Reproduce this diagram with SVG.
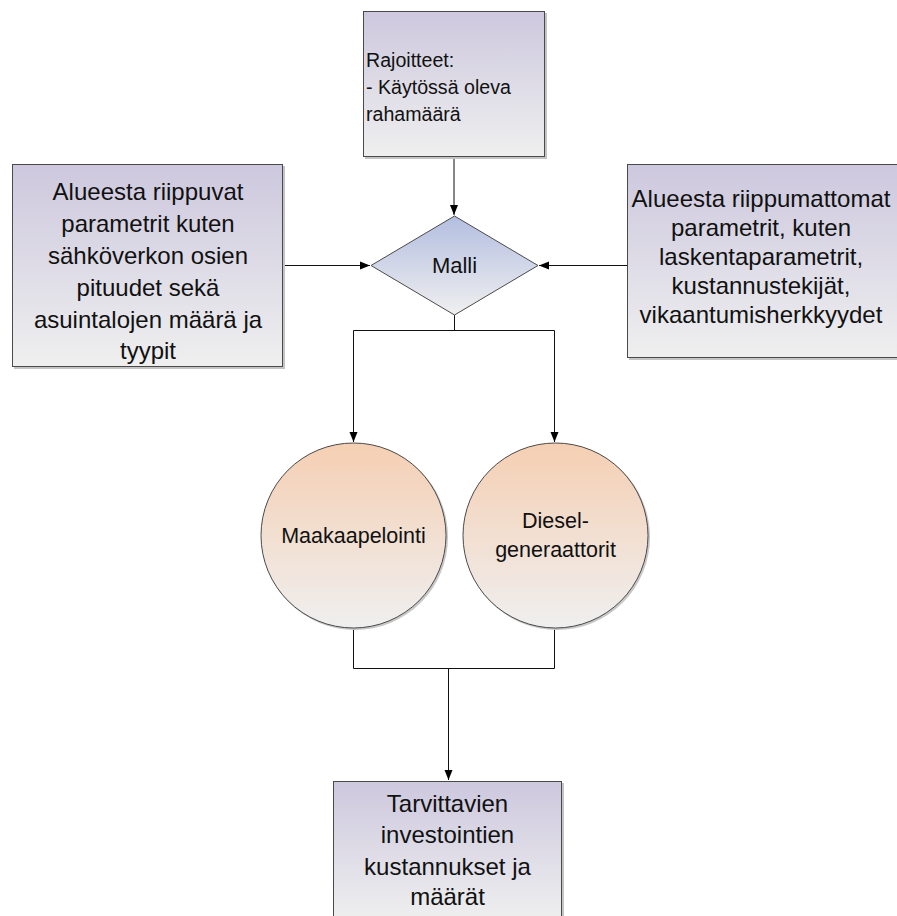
<svg xmlns="http://www.w3.org/2000/svg" width="897" height="916" viewBox="0 0 897 916">
<style>
  .box { stroke: #4a4a4a; stroke-width: 1; }
  .shadow { fill: #c4c4c4; }
  .t { font-family: "Liberation Sans", Arial, sans-serif; fill: #111; }
  .big { font-size: 24px; text-anchor: middle; }
  .mid { font-size: 21.5px; text-anchor: middle; }
  .sm { font-size: 19.6px; }
  .conn { fill: none; stroke: #111; stroke-width: 1; }
</style>
<defs>
  <linearGradient id="gBox" x1="0" y1="0" x2="0" y2="1">
    <stop offset="0" stop-color="#cdc8de"/>
    <stop offset="1" stop-color="#efefef"/>
  </linearGradient>
  <linearGradient id="gDia" x1="0" y1="0" x2="0" y2="1">
    <stop offset="0" stop-color="#b3bee0"/>
    <stop offset="1" stop-color="#f0f0f0"/>
  </linearGradient>
  <linearGradient id="gCirc" x1="0" y1="0" x2="0" y2="1">
    <stop offset="0" stop-color="#f5cfb3"/>
    <stop offset="1" stop-color="#efefef"/>
  </linearGradient>
  <marker id="arr" viewBox="0 0 10 10" refX="10" refY="5" markerWidth="10" markerHeight="10" markerUnits="userSpaceOnUse" orient="auto">
    <path d="M0,1 L10,5 L0,9 Z" fill="#000"/>
  </marker>
</defs>
<rect width="897" height="916" fill="#fff"/>

<g id="connectors">
  <path class="conn" d="M454,157 L454,215" marker-end="url(#arr)"/>
  <path class="conn" d="M283,265.5 L370,265.5" marker-end="url(#arr)"/>
  <path class="conn" d="M627,265.5 L539,265.5" marker-end="url(#arr)"/>
  <path class="conn" d="M454.5,315 L454.5,330.5 M353.5,330.5 L554.5,330.5"/>
  <path class="conn" d="M353.5,330.5 L353.5,442" marker-end="url(#arr)"/>
  <path class="conn" d="M554.5,330.5 L554.5,442" marker-end="url(#arr)"/>
  <path class="conn" d="M353.5,628 L353.5,668.5 L554.5,668.5 L554.5,628"/>
  <path class="conn" d="M448.5,668.5 L448.5,780" marker-end="url(#arr)"/>
</g>

<g id="rajoitteet">
  <rect class="shadow" x="365" y="13" width="182" height="146"/>
  <rect class="box" x="363.5" y="11.5" width="181" height="145" fill="url(#gBox)"/>
  <text class="t sm" x="366" y="67">Rajoitteet:</text>
  <text class="t sm" x="366" y="94">- Käytössä oleva</text>
  <text class="t sm" x="366" y="121">rahamäärä</text>
</g>

<g id="riippuvat">
  <rect class="shadow" x="14" y="166" width="271" height="203"/>
  <rect class="box" x="12.5" y="164.5" width="270" height="202" fill="url(#gBox)"/>
  <text class="t big" x="148" y="200">Alueesta riippuvat</text>
  <text class="t big" x="148" y="232">parametrit kuten</text>
  <text class="t big" x="148" y="264">sähköverkon osien</text>
  <text class="t big" x="148" y="296">pituudet sekä</text>
  <text class="t big" x="148" y="328">asuintalojen määrä ja</text>
  <text class="t big" x="148" y="359">tyypit</text>
</g>

<g id="riippumattomat">
  <rect class="shadow" x="629" y="166" width="271" height="194"/>
  <rect class="box" x="627.5" y="164.5" width="271" height="193" fill="url(#gBox)"/>
  <text class="t big" x="761" y="207">Alueesta riippumattomat</text>
  <text class="t big" x="761" y="236">parametrit, kuten</text>
  <text class="t big" x="761" y="265">laskentaparametrit,</text>
  <text class="t big" x="761" y="294">kustannustekijät,</text>
  <text class="t big" x="761" y="323">vikaantumisherkkyydet</text>
</g>

<g id="malli">
  <path class="box" d="M454.5,216 L538,265.5 L454.5,315 L371,265.5 Z" fill="url(#gDia)"/>
  <text class="t" x="454.5" y="273" font-size="22" text-anchor="middle">Malli</text>
</g>

<g id="maakaapelointi">
  <circle cx="355" cy="537" r="93" fill="#c8c8c8"/>
  <circle class="box" cx="353.5" cy="535.5" r="92.5" fill="url(#gCirc)"/>
  <text class="t mid" x="353.5" y="543" font-size="21">Maakaapelointi</text>
</g>

<g id="diesel">
  <circle cx="557" cy="537" r="93" fill="#c8c8c8"/>
  <circle class="box" cx="555.5" cy="535.5" r="92.5" fill="url(#gCirc)"/>
  <text class="t mid" x="555.5" y="528">Diesel-</text>
  <text class="t mid" x="555.5" y="557">generaattorit</text>
</g>

<g id="tarvittavien">
  <rect class="shadow" x="335" y="783" width="229" height="140"/>
  <rect class="box" x="333.5" y="781.5" width="228" height="140" fill="url(#gBox)"/>
  <text class="t big" x="447.5" y="812">Tarvittavien</text>
  <text class="t big" x="447.5" y="843">investointien</text>
  <text class="t big" x="447.5" y="875">kustannukset ja</text>
  <text class="t big" x="447.5" y="905">määrät</text>
</g>
</svg>
